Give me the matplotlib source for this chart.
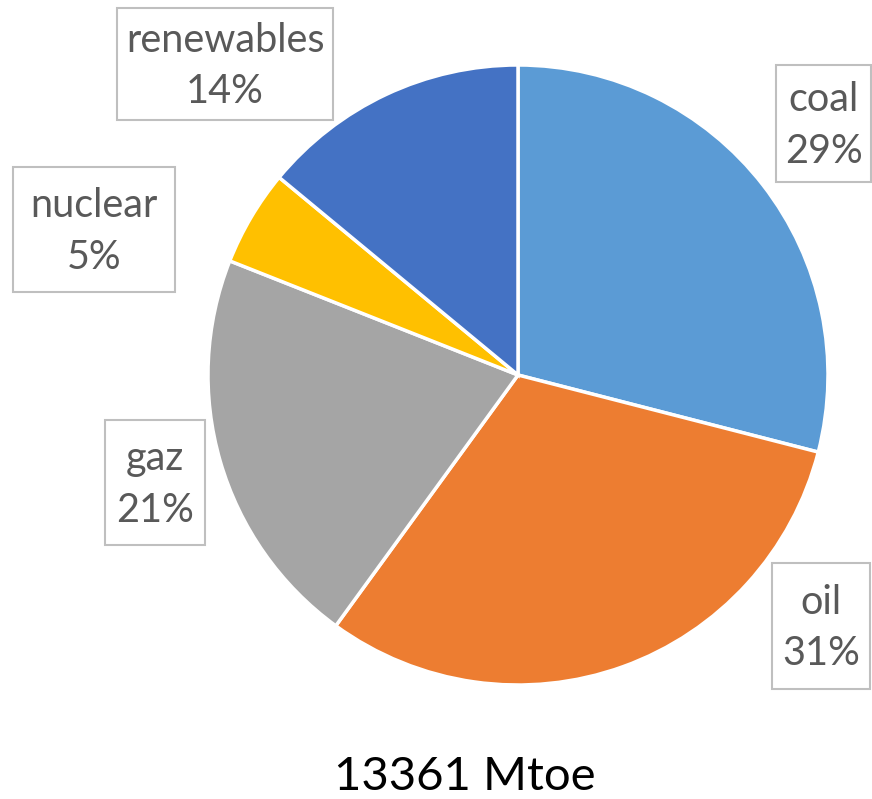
import matplotlib
matplotlib.use("Agg")
import matplotlib.pyplot as plt
from matplotlib.patches import Rectangle

categories = ["coal", "oil", "gaz", "nuclear", "renewables"]
shares = [29, 31, 21, 5, 14]
colors = ["#5B9BD5", "#ED7D31", "#A5A5A5", "#FFC000", "#4472C4"]
total_label = "13361 Mtoe"

W, H = 872, 799
fig = plt.figure(figsize=(W / 100, H / 100), dpi=100)
ax = fig.add_axes([0, 0, 1, 1])

cx, cy, r = 518, H - 375, 310
ax.pie(shares, colors=colors, startangle=90, counterclock=False,
       center=(cx, cy), radius=r, frame=True,
       wedgeprops=dict(edgecolor="white", linewidth=2.5))
ax.set_xlim(0, W)
ax.set_ylim(0, H)
ax.set_aspect("equal")
ax.axis("off")

# label boxes: (center x, center y from top, width, height)
boxes = {
    "coal": (823.5, 123.5, 95, 117),
    "oil": (821, 626, 98, 126),
    "gaz": (155, 482.5, 100, 125),
    "nuclear": (94, 229.5, 162, 125),
    "renewables": (225, 64, 216, 112),
}
font = "Lato"
for cat, val in zip(categories, shares):
    bx, by, bw, bh = boxes[cat]
    yc = H - by
    ax.add_patch(Rectangle((bx - bw / 2, yc - bh / 2), bw, bh, facecolor="white",
                           edgecolor="#BFBFBF", linewidth=1.5, zorder=5))
    ax.text(bx, yc - 2, f"{cat}\n{val}%", ha="center", va="center", fontsize=28.5,
            color="#595959", family=font, linespacing=1.47, zorder=6)

ax.text(465, H - 777, total_label, ha="center", va="center", fontsize=34,
        color="black", family=font)

fig.savefig("out.png", dpi=100)
